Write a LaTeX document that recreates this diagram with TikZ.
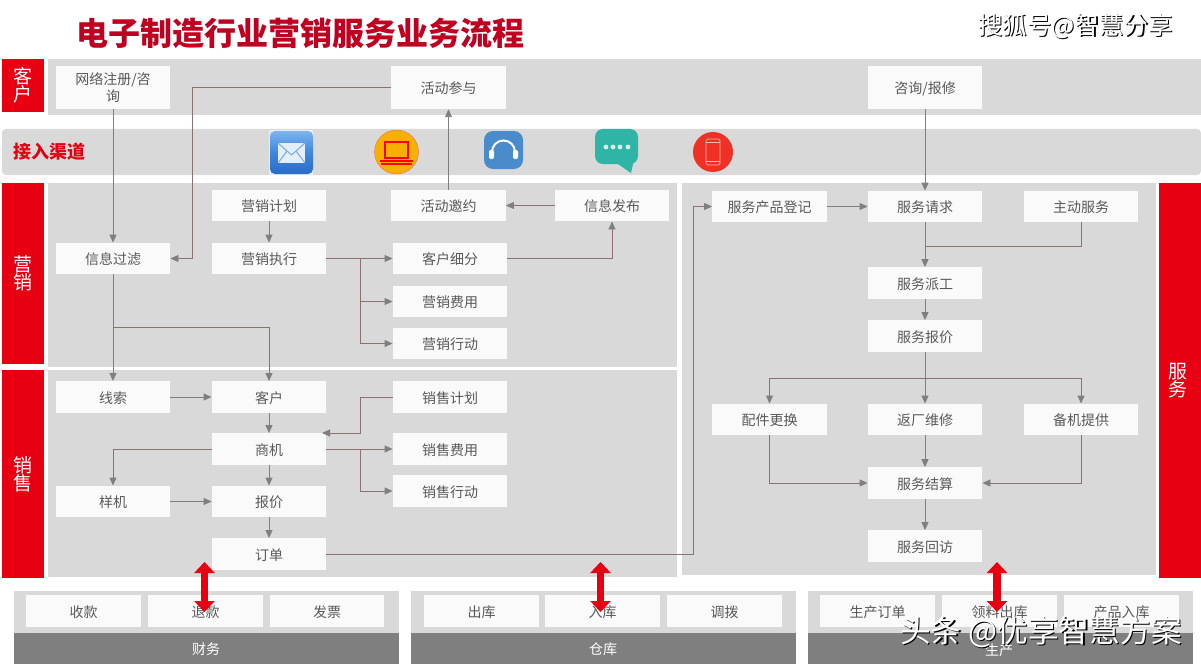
\documentclass[tikz,border=0pt]{standalone}
\usepackage{fontspec}
\setmainfont{Noto Sans CJK SC}
\usetikzlibrary{arrows.meta,calc}
\definecolor{hred}{HTML}{E60012}
\definecolor{titlered}{HTML}{C00020}
\definecolor{panel}{HTML}{D9D9D9}
\definecolor{boxfill}{HTML}{FAFAFA}
\definecolor{dark}{HTML}{7F7F7F}
\definecolor{txt}{HTML}{595959}
\definecolor{lineb}{HTML}{8C7272}
\definecolor{lineg}{HTML}{7F7F7F}
\definecolor{mailtop}{HTML}{7DB4EE}
\definecolor{mailmid}{HTML}{3F86DC}
\definecolor{mailbot}{HTML}{2A6CC8}
\definecolor{mailenv}{HTML}{E4EEF6}
\definecolor{lapfill}{HTML}{F5B000}
\definecolor{lapedge}{HTML}{EE7060}
\definecolor{headset}{HTML}{4A8CCB}
\definecolor{chat}{HTML}{2FB5A5}
\definecolor{chatdot}{HTML}{D4EFEA}
\definecolor{phone}{HTML}{EE3124}
\definecolor{phoneline}{HTML}{F8B8B0}
\tikzset{
  x=1pt,y=-1pt,
  basebox/.style={fill=boxfill,minimum width=114.5pt,minimum height=31.5pt,inner sep=0pt,text=txt,font=\fontsize{14}{17}\selectfont,align=center},
  box/.style={basebox,text height=13pt,text depth=0.5pt},
  tallbox/.style={box,minimum height=43pt},
  bandlabel/.style={text=white,inner sep=0pt,align=center,font=\fontsize{19}{19}\selectfont},
  darklabel/.style={text=white,inner sep=0pt,font=\fontsize{14}{15}\selectfont},
  tipg/.style={-{Triangle[length=8pt,width=7pt,color=lineg]}},
  conn/.style={draw=lineb,line width=0.9pt,tipg},
  connplain/.style={draw=lineb,line width=0.9pt},
  straight/.style={draw=lineg,line width=0.9pt,tipg},
  bigarrow/.style={draw=hred,line width=7.5pt,{Triangle[length=11pt,width=20pt]}-{Triangle[length=11pt,width=20pt]}},
}
\newcommand{\wmark}[4]{%
  \node[text=black,inner sep=0pt,font=\fontsize{#3}{#3}\selectfont] at ($(#1)+(1.2,1.4)$) {#4};
  \node[text=white,inner sep=0pt,font=\fontsize{#3}{#3}\selectfont] (#2) at (#1) {#4};}
\begin{document}
\begin{tikzpicture}
\useasboundingbox (0,0) rectangle (1201,666);
% panels
\fill[hred] (2,59) rectangle (44,112);
\fill[panel] (48,59) rectangle (1201,115);
\fill[panel,rounded corners=4pt] (2,129) rectangle (1201,175);
\fill[hred] (2,183) rectangle (44,364);
\fill[panel] (48,183) rectangle (677,367);
\fill[hred] (2,370) rectangle (44,578);
\fill[panel] (48,370) rectangle (677,577);
\fill[panel] (682,183) rectangle (1156,575);
\fill[hred] (1159,183) rectangle (1201,578);
\fill[panel] (14,591) rectangle (399,664);
\fill[panel] (411,591) rectangle (796,664);
\fill[panel] (808,591) rectangle (1193,664);
\fill[dark] (14,633) rectangle (399,664);
\fill[dark] (411,633) rectangle (796,664);
\fill[dark] (808,633) rectangle (1193,664);
% title and band labels
\node[text=titlered,inner sep=0pt,font=\fontsize{32}{32}\selectfont\bfseries] (title) at (300.5,33) {电子制造行业营销服务业务流程};
\node[bandlabel] (lkh) at (23,85) {客\\[-1pt]户};
\node[bandlabel] (lyx) at (23,273) {营\\[-1pt]销};
\node[bandlabel] (lxs) at (23,474) {销\\[-1pt]售};
\node[bandlabel] (lfw) at (1178,381) {服\\[-1pt]务};
\node[text=hred,inner sep=0pt,font=\fontsize{18}{18}\selectfont\bfseries] (ljr) at (49,152) {接入渠道};
% icons
\fill[mailenv] (269,130) rectangle (313,175);
\shade[top color=mailtop,bottom color=mailbot,middle color=mailmid,rounded corners=5pt] (270,131) rectangle (313,174);
\fill[mailenv] (278,143) rectangle (305,163);
\draw[mailmid!70!white,line width=1pt] (278,143) -- (291.5,155) -- (305,143) (278,163) -- (287,151) (305,163) -- (296,151);
\fill[lapfill,draw=lapedge] (396.5,152) circle (22);
\draw[red,line width=1.2pt] (385,142) rectangle (408,158);
\fill[red] (380,160) rectangle (413,162);
\fill[red] (381,163) rectangle (412,164.5);
\fill[headset,rounded corners=9pt] (484,131) rectangle (523,169);
\draw[white,line width=2pt] (492,152) arc[start angle=180,end angle=0,x radius=11.5,y radius=-11.5];
\fill[white,rounded corners=2pt] (489,150) rectangle (494,159);
\fill[white,rounded corners=2pt] (513,150) rectangle (518,159);
\fill[chat,rounded corners=8pt] (595,129) rectangle (638,164);
\fill[chat] (615,162) -- (634,160) -- (631,173) -- cycle;
\foreach \dx in {606,613,620,628}{\fill[chatdot] (\dx,147) circle (2.4);}
\fill[phone] (713,152) circle (20);
\draw[phoneline,line width=0.7pt,rounded corners=1.5pt] (706,139) rectangle (720,165);
\draw[phoneline,line width=0.7pt] (706,142) -- (720,142) (706,161) -- (720,161);
% nodes
\node[basebox,minimum height=43pt] (wl) at (113,87.5) {网络注册/咨\\询};
\node[tallbox] (hdcy) at (448.5,87.5) {活动参与};
\node[tallbox] (zx) at (925,87.5) {咨询/报修};
\node[box] (yxjh) at (269,205.5) {营销计划};
\node[box] (hdyy) at (448.5,205.5) {活动邀约};
\node[box] (xxfb) at (612,205.5) {信息发布};
\node[box] (xxgl) at (113,258.5) {信息过滤};
\node[box] (yxzx) at (269,258.5) {营销执行};
\node[box] (khxf) at (450,258.5) {客户细分};
\node[box] (yxfy) at (450,301.5) {营销费用};
\node[box] (yxxd) at (450,343.5) {营销行动};
\node[box] (xs) at (113,397) {线索};
\node[box] (kh) at (269,397) {客户};
\node[box] (xsjh) at (450,397) {销售计划};
\node[box] (sj) at (269,449) {商机};
\node[box] (xsfy) at (450,449) {销售费用};
\node[box] (xsxd) at (450,491) {销售行动};
\node[box] (yj) at (113,501.5) {样机};
\node[box] (bj) at (269,501.5) {报价};
\node[box] (dd) at (269,554) {订单};
\node[box] (fwcp) at (769.5,206.5) {服务产品登记};
\node[box] (fwqq) at (925,206.5) {服务请求};
\node[box] (zdfw) at (1081,206.5) {主动服务};
\node[box] (fwpg) at (925,283) {服务派工};
\node[box] (fwbj) at (925,336) {服务报价};
\node[box] (pjgh) at (769.5,419.5) {配件更换};
\node[box] (fcwx) at (925,419.5) {返厂维修};
\node[box] (bjtg) at (1081,419.5) {备机提供};
\node[box] (fwjs) at (925,483) {服务结算};
\node[box] (fwhf) at (925,546) {服务回访};
% bottom
\node[box,minimum height=32pt] (sk) at (83.5,611) {收款};
\node[box,minimum height=32pt] (tk) at (205.5,611) {退款};
\node[box,minimum height=32pt] (fp) at (327,611) {发票};
\node[box,minimum height=32pt] (ck) at (481.5,611) {出库};
\node[box,minimum height=32pt] (rk) at (602.5,611) {入库};
\node[box,minimum height=32pt] (db) at (724.5,611) {调拨};
\node[box,minimum height=32pt] (scdd) at (877.5,611) {生产订单};
\node[box,minimum height=32pt] (llck) at (999.5,611) {领料出库};
\node[box,minimum height=32pt] (cprk) at (1121.5,611) {产品入库};
\node[darklabel] (cw) at (206,649) {财务};
\node[darklabel] (cangku) at (603,649) {仓库};
\node[darklabel] (sc) at (999,650) {生产};
% junctions
\coordinate (j1) at (192,87.5);
\coordinate (j2) at (612,258.5);
\coordinate (j3) at (360,258.5);
\coordinate (j4) at (113,327);
\coordinate (j5) at (269,327);
\coordinate (j6) at (360,397);
\coordinate (j7) at (360,433);
\coordinate (j8) at (322,433);
\coordinate (j9) at (360,449);
\coordinate (j10) at (113,449);
\coordinate (j11) at (693,554);
\coordinate (j12) at (693,206.5);
\coordinate (j13) at (1081,246);
\coordinate (j14) at (925,246);
\coordinate (j15) at (925,378);
\coordinate (j16) at (769.5,378);
\coordinate (j17) at (1081,378);
\coordinate (j18) at (769.5,483);
\coordinate (j19) at (1081,483);
% connectors
\draw[straight] (wl.south) -- (xxgl.north);
\draw[conn] (hdcy.west) -- (j1) |- (xxgl.east);
\draw[straight] (hdyy.north) -- (hdcy.south);
\draw[conn] (xxfb.west) -- (hdyy.east);
\draw[straight] (yxjh.south) -- (yxzx.north);
\draw[conn] (yxzx.east) -- (khxf.west);
\draw[conn] (j3) |- (yxfy.west);
\draw[conn] (j3) |- (yxxd.west);
\draw[conn] (khxf.east) -- (j2) -- (xxfb.south);
\draw[straight] (xxgl.south) -- (xs.north);
\draw[conn] (j4) -- (j5) -- (kh.north);
\draw[straight] (xs.east) -- (kh.west);
\draw[straight] (kh.south) -- (sj.north);
\draw[conn] (xsjh.west) -- (j6) -- (j7) -- (j8);
\draw[straight] (sj.south) -- (bj.north);
\draw[conn] (sj.east) -- (xsfy.west);
\draw[conn] (j9) |- (xsxd.west);
\draw[conn] (sj.west) -- (j10) -- (yj.north);
\draw[straight] (yj.east) -- (bj.west);
\draw[straight] (bj.south) -- (dd.north);
\draw[conn] (dd.east) -- (j11) -- (j12) -- (fwcp.west);
\draw[straight] (fwcp.east) -- (fwqq.west);
\draw[straight] (zx.south) -- (fwqq.north);
\draw[straight] (fwqq.south) -- (fwpg.north);
\draw[connplain] (zdfw.south) -- (j13) -- (j14);
\draw[straight] (fwpg.south) -- (fwbj.north);
\draw[straight] (fwbj.south) -- (fcwx.north);
\draw[conn] (j15) -- (j16) -- (pjgh.north);
\draw[conn] (j15) -- (j17) -- (bjtg.north);
\draw[conn] (pjgh.south) -- (j18) -- (fwjs.west);
\draw[conn] (bjtg.south) -- (j19) -- (fwjs.east);
\draw[straight] (fcwx.south) -- (fwjs.north);
\draw[straight] (fwjs.south) -- (fwhf.north);
% double arrows
\coordinate (a1) at (204.5,562);
\coordinate (a2) at (204.5,612);
\coordinate (b1) at (600.5,562);
\coordinate (b2) at (600.5,612);
\coordinate (c1) at (997,562);
\coordinate (c2) at (997,612);
\draw[bigarrow] (a1) -- (a2);
\draw[bigarrow] (b1) -- (b2);
\draw[bigarrow] (c1) -- (c2);
% watermarks
\wmark{1075.5,26}{wm1}{24.5}{搜狐号@智慧分享}
\wmark{1041,632}{wm2}{30.7}{头条 @优享智慧方案}
\end{tikzpicture}
\end{document}
